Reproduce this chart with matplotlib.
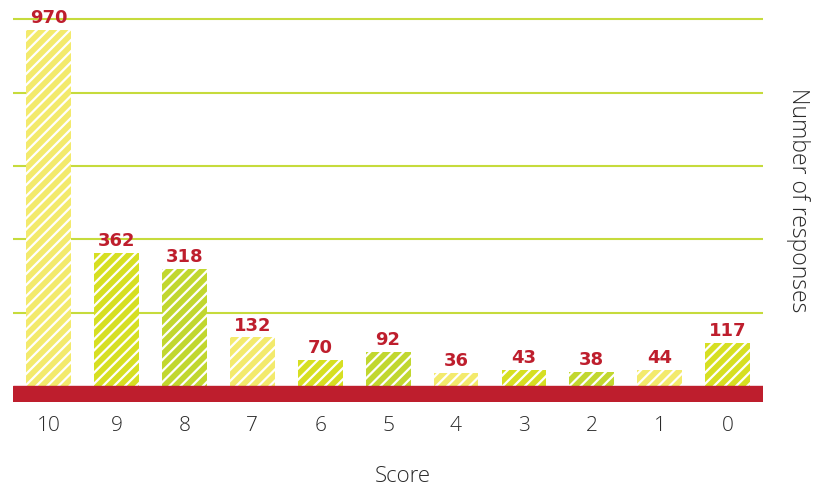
import matplotlib.pyplot as plt

# Datos del grafico
scores = ['10', '9', '8', '7', '6', '5', '4', '3', '2', '1', '0']
responses = [970, 362, 318, 132, 70, 92, 36, 43, 38, 44, 117]
bar_colors = ['#f3ea6c', '#d6df22', '#c1d72f'] * 4

plt.rcParams['hatch.linewidth'] = 1.6

fig = plt.figure(figsize=(8.24, 4.91), dpi=100)
W, H = 824, 491
ax = fig.add_axes([13 / W, (H - 402) / H, 750 / W, (402 - 5) / H])

x = list(range(len(scores)))
ax.bar(x, responses, width=0.66, color=bar_colors[:len(scores)],
       edgecolor='white', linewidth=0, hatch='///', zorder=3)

# Lineas de cuadricula
for g in [200, 400, 600, 800, 1000]:
    ax.axhline(g, color='#c6db3c', linewidth=1.5, zorder=1)

# Banda roja base
ax.axhspan(-44, 0, color='#be1e2d', zorder=4)

for xi, v in zip(x, responses):
    ax.text(xi, v + 8, str(v), ha='center', va='bottom', color='#be1e2d',
            fontsize=13, fontweight='bold', family='DejaVu Sans')

ax.set_xlim(-0.523, 10.52)
ax.set_ylim(-44, 1039)
ax.set_xticks(x)
ax.set_xticklabels(scores, fontsize=15, color='#2a2a2a', family=['Open Sans', 'DejaVu Sans'], fontweight='light')
ax.tick_params(axis='x', length=0, pad=10)
ax.set_yticks([])
for s in ax.spines.values():
    s.set_visible(False)

fig.text(403 / W, 1 - 477 / H, 'Score', ha='center', va='center', fontsize=16,
         color='#2a2a2a', family=['Open Sans', 'DejaVu Sans'], fontweight='light')
fig.text(798 / W, 1 - 200 / H, 'Number of responses', ha='center', va='center', rotation=-90,
         fontsize=16.5, color='#2a2a2a', family=['Open Sans', 'DejaVu Sans'], fontweight='light')

fig.savefig('out.png', dpi=100)
